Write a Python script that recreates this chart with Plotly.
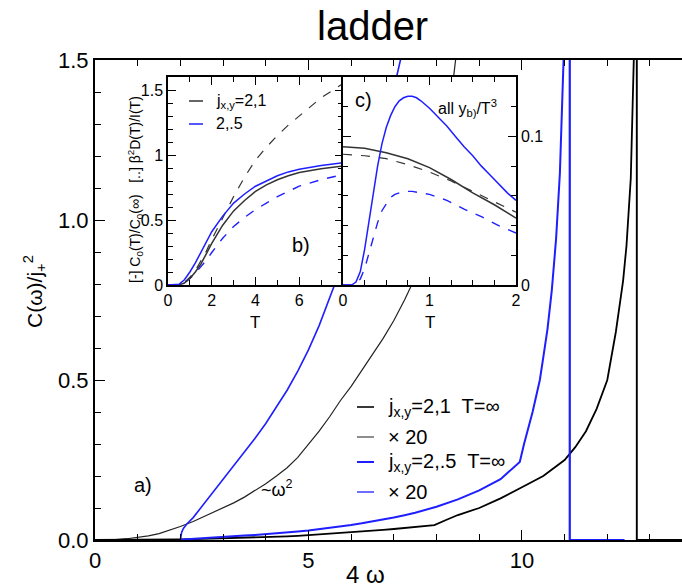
import plotly.graph_objects as go

# ---------------- main panel a): spectral function vs 4*omega ----------------
# j_xy = 2,1 at T = infinity
w_blk = [0.0, 0.35, 0.75, 1.0, 1.25, 1.5, 1.75, 2.0, 2.3, 2.5, 2.75, 3.0, 3.25, 3.5, 3.75,
         4.0, 4.25, 4.5, 4.75, 5.0, 5.25, 5.5, 5.75, 6.0, 6.25, 6.5, 6.75, 7.0, 7.25, 7.5,
         7.75, 7.95, 8.25, 8.4, 8.5, 9.0, 9.5, 10.0, 10.5, 11.0, 11.25, 11.5, 11.75, 12.0,
         12.2, 12.37, 12.45, 12.55, 12.6, 12.63, 12.69, 12.69, 13.75]
c_blk = [0.0, 0.0, 0.0002, 0.0004, 0.00065, 0.001, 0.0015, 0.0021, 0.0029, 0.0035, 0.0042,
         0.0050, 0.0058, 0.0067, 0.0077, 0.0088, 0.0100, 0.0113, 0.0129, 0.0150, 0.0170,
         0.0193, 0.0218, 0.0240, 0.0265, 0.0290, 0.0315, 0.0343, 0.0375, 0.0410, 0.0440,
         0.0465, 0.064, 0.073, 0.078, 0.10, 0.13, 0.165, 0.20, 0.25, 0.29, 0.34, 0.41,
         0.50, 0.65, 0.81, 0.92, 1.13, 1.35, 1.55, 2.0, 0.0, 0.0]

# j_xy = 2,.5 at T = infinity
w_blu = [2.0, 2.01, 2.03, 2.07, 2.15, 2.3, 2.5, 2.75, 3.0, 3.25, 3.5, 3.75, 4.0, 4.25, 4.5,
         4.75, 5.0, 5.25, 5.5, 5.75, 6.0, 6.25, 6.5, 6.75, 7.0, 7.25, 7.5, 8.0, 8.5, 9.0,
         9.5, 9.95, 10.05, 10.25, 10.42, 10.5, 10.6, 10.7, 10.8, 10.89, 10.95, 11.0, 11.12,
         11.12, 12.4]
c_blu = [0.0, 0.0006, 0.0012, 0.0018, 0.0025, 0.0035, 0.0052, 0.0073, 0.0095, 0.0116,
         0.0137, 0.0159, 0.0182, 0.0207, 0.0234, 0.0264, 0.0297, 0.0335, 0.0378, 0.0423,
         0.0472, 0.0524, 0.0580, 0.0640, 0.0705, 0.0775, 0.085, 0.104, 0.127, 0.155, 0.19,
         0.244, 0.30, 0.40, 0.50, 0.57, 0.66, 0.78, 0.94, 1.147, 1.35, 1.6, 1.7, 0.0, 0.0]

scale = 20  # magnification of the "x 20" curves

# ---------------- inset b): C0(T)/C0(inf) (solid) and beta^2 D/I (dashed) ----------------
T_b = [0.0, 0.5, 0.75, 1.0, 1.25, 1.5, 1.75, 2.0, 2.5, 3.0, 3.5, 4.0, 4.5, 5.0, 5.5, 6.0,
       7.0, 8.0]
b_blk_solid = [0.0, 0.0, 0.015, 0.05, 0.10, 0.16, 0.24, 0.32, 0.46, 0.57, 0.65, 0.72, 0.77,
               0.81, 0.84, 0.865, 0.895, 0.915]
b_blu_solid = [0.0, 0.005, 0.04, 0.10, 0.17, 0.25, 0.33, 0.41, 0.53, 0.63, 0.70, 0.76,
               0.80, 0.84, 0.87, 0.89, 0.92, 0.94]
b_blk_dash = [0.0, 0.0, 0.02, 0.06, 0.11, 0.18, 0.26, 0.35, 0.52, 0.68, 0.83, 0.96, 1.06,
              1.15, 1.23, 1.30, 1.44, 1.55]
b_blu_dash = [0.0, 0.0, 0.02, 0.05, 0.09, 0.14, 0.19, 0.25, 0.36, 0.45, 0.52, 0.58, 0.63,
              0.68, 0.72, 0.76, 0.81, 0.85]

# ---------------- inset c): the same quantities divided by T^3 ----------------
T_c_solid = [0.0, 0.1, 0.15, 0.2, 0.25, 0.3, 0.35, 0.4, 0.45, 0.5, 0.55, 0.6, 0.65, 0.7,
             0.75, 0.8, 0.85, 0.9, 1.0, 1.1, 1.2, 1.3, 1.4, 1.5, 1.6, 1.7, 1.8, 1.9, 2.0]
c_blu_solid = [0.0, 0.0, 0.002, 0.009, 0.024, 0.043, 0.063, 0.080, 0.095, 0.106, 0.114,
               0.120, 0.124, 0.126, 0.127, 0.127, 0.126, 0.124, 0.119, 0.113, 0.107, 0.100,
               0.093, 0.087, 0.080, 0.074, 0.068, 0.062, 0.057]
T_c_dash = [0.0, 0.1, 0.15, 0.2, 0.25, 0.3, 0.35, 0.4, 0.45, 0.5, 0.55, 0.6, 0.7, 0.8, 0.9,
            1.0, 1.2, 1.4, 1.6, 1.8, 2.0]
c_blu_dash = [0.0, 0.0, 0.001, 0.004, 0.011, 0.021, 0.032, 0.042, 0.050, 0.055, 0.059,
              0.061, 0.063, 0.063, 0.062, 0.061, 0.057, 0.051, 0.046, 0.040, 0.035]
T_c_blk = [0.0, 0.25, 0.5, 0.75, 1.0, 1.25, 1.5, 1.75, 2.0]
c_blk_solid = [0.093, 0.092, 0.089, 0.085, 0.079, 0.071, 0.062, 0.054, 0.045]
c_blk_dash = [0.088, 0.087, 0.085, 0.081, 0.076, 0.070, 0.063, 0.056, 0.049]

BLUE = "rgb(30,30,255)"
BLACK = "black"
FONT = "Liberation Sans, Arial, sans-serif"

W, H = 682, 587
ML, MR, MT, MB = 95, 0, 60, 47
PW, PH = W - ML - MR, H - MT - MB


def fx(p):
    return (p - ML) / PW


def fy(p):
    return (H - MB - p) / PH


fig = go.Figure()


def line(x, y, color, width, dash="solid", xa="x", ya="y"):
    fig.add_trace(go.Scatter(x=x, y=y, mode="lines", xaxis=xa, yaxis=ya,
                             line=dict(color=color, width=width, dash=dash),
                             showlegend=False, hoverinfo="skip"))


# main curves: magnified copies first, then the plain ones
line(w_blk, [v * scale for v in c_blk], "#222222", 1.2)
line(w_blu, [v * scale for v in c_blu], BLUE, 1.6)
line(w_blk, c_blk, BLACK, 1.8)
line(w_blu, c_blu, BLUE, 2.0)

# inset b
line(T_b, b_blk_dash, "#333333", 1.2, "dash", "x2", "y2")
line(T_b, b_blu_dash, BLUE, 1.4, "dash", "x2", "y2")
line(T_b, b_blk_solid, "#333333", 1.5, "solid", "x2", "y2")
line(T_b, b_blu_solid, BLUE, 1.5, "solid", "x2", "y2")

# inset c
line(T_c_blk, c_blk_dash, "#333333", 1.2, "dash", "x3", "y3")
line(T_c_dash, c_blu_dash, BLUE, 1.4, "dash", "x3", "y3")
line(T_c_blk, c_blk_solid, "#333333", 1.5, "solid", "x3", "y3")
line(T_c_solid, c_blu_solid, BLUE, 1.5, "solid", "x3", "y3")


def axis_style(size, ticklen, minorlen, minor_dtick, lw=1.5):
    return dict(showgrid=False, zeroline=False, showline=True, linecolor="black",
                linewidth=lw, ticks="inside", ticklen=ticklen, tickwidth=1.3,
                tickcolor="black", automargin=False,
                tickfont=dict(family=FONT, size=size, color="black"),
                minor=dict(ticks="inside", ticklen=minorlen, tickwidth=1.1,
                           tickcolor="black", dtick=minor_dtick, showgrid=False))


fig.update_layout(
    template="none",
    width=W, height=H, margin=dict(l=ML, r=MR, t=MT, b=MB, pad=0, autoexpand=False),
    paper_bgcolor="white", plot_bgcolor="white", showlegend=False,
    font=dict(family=FONT, color="black"),
    xaxis=dict(domain=[0, 1], range=[0, 13.75], tickvals=[0, 5, 10], mirror="allticks",
               **axis_style(22, 10, 6, 1, 2)),
    yaxis=dict(domain=[0, 1], range=[0, 1.5], tickvals=[0, 0.5, 1.0, 1.5],
               tickformat=".1f", mirror=False, **axis_style(22, 10, 6, 0.1, 2)),
    xaxis2=dict(domain=[fx(168), fx(343)], range=[0, 8], tickvals=[0, 2, 4, 6],
                anchor="y2", mirror="allticks", **axis_style(16, 8, 5, 1)),
    yaxis2=dict(domain=[fy(285), fy(77)], range=[0, 1.6], tickvals=[0, 0.5, 1, 1.5],
                ticktext=["0", "0.5", "1", "1.5"], anchor="x2", mirror="allticks",
                **axis_style(16, 8, 5, 0.1)),
    xaxis3=dict(domain=[fx(343), fx(516)], range=[0, 2], tickvals=[0, 1, 2],
                anchor="y3", mirror="allticks", **axis_style(16, 8, 5, 0.25)),
    yaxis3=dict(domain=[fy(285), fy(77)], range=[0, 0.14], tickvals=[0, 0.1],
                ticktext=["0", "0.1"], anchor="x3", side="right", mirror="allticks",
                **axis_style(16, 8, 5, 0.02)),
)

ann = []


def text(x, y, s, size, xanchor="center", angle=0):
    ann.append(dict(x=x, y=y, xref="paper", yref="paper", text=s, showarrow=False,
                    xanchor=xanchor, yanchor="middle", textangle=angle,
                    font=dict(family=FONT, size=size, color="black")))


text(fx(372), fy(26), "ladder", 40)
text(fx(365), fy(574), "4 ω", 24)
text(fx(34), fy(292), "C(ω)/j<sub>+</sub><sup>2</sup>", 21, angle=-90)
text(fx(143), fy(485), "a)", 20)
text(fx(277), fy(488), "~ω<sup>2</sup>", 18)

# inset labels
text(fx(135), fy(190), "[-] C<sub>0</sub>(T)/C<sub>0</sub>(∞)   [..] β<sup>2</sup>D(T)/I(T)",
     14, angle=-90)
text(fx(255), fy(322), "T", 17)
text(fx(430), fy(322), "T", 17)
text(fx(301), fy(245), "b)", 20)
text(fx(363), fy(100), "c)", 20)
text(fx(467), fy(108), "all y<sub>b)</sub>/T<sup>3</sup>", 16)

shapes = []


def key(x0, x1, y, color, width):
    shapes.append(dict(type="line", xref="paper", yref="paper", x0=fx(x0), x1=fx(x1),
                       y0=fy(y), y1=fy(y), line=dict(color=color, width=width)))


# inset b key
key(189, 203, 101, "#333333", 1.5)
text(fx(214), fy(101), "j<sub>x,y</sub>=2,1", 16, xanchor="left")
key(189, 203, 124, BLUE, 1.5)
text(fx(214), fy(124), "2,.5", 16, xanchor="left")

# main key
rows = [(407, "#222222", 1.8, "j<sub>x,y</sub>=2,1  T=∞"),
        (437, "#444444", 1.2, "× 20"),
        (462, BLUE, 2.0, "j<sub>x,y</sub>=2,.5  T=∞"),
        (492, BLUE, 1.3, "× 20")]
for yy, col, wd, lab in rows:
    key(357, 374, yy, col, wd)
    text(fx(386), fy(yy), lab, 20, xanchor="left")

fig.update_layout(annotations=ann, shapes=shapes)
fig.write_html("out.html")
